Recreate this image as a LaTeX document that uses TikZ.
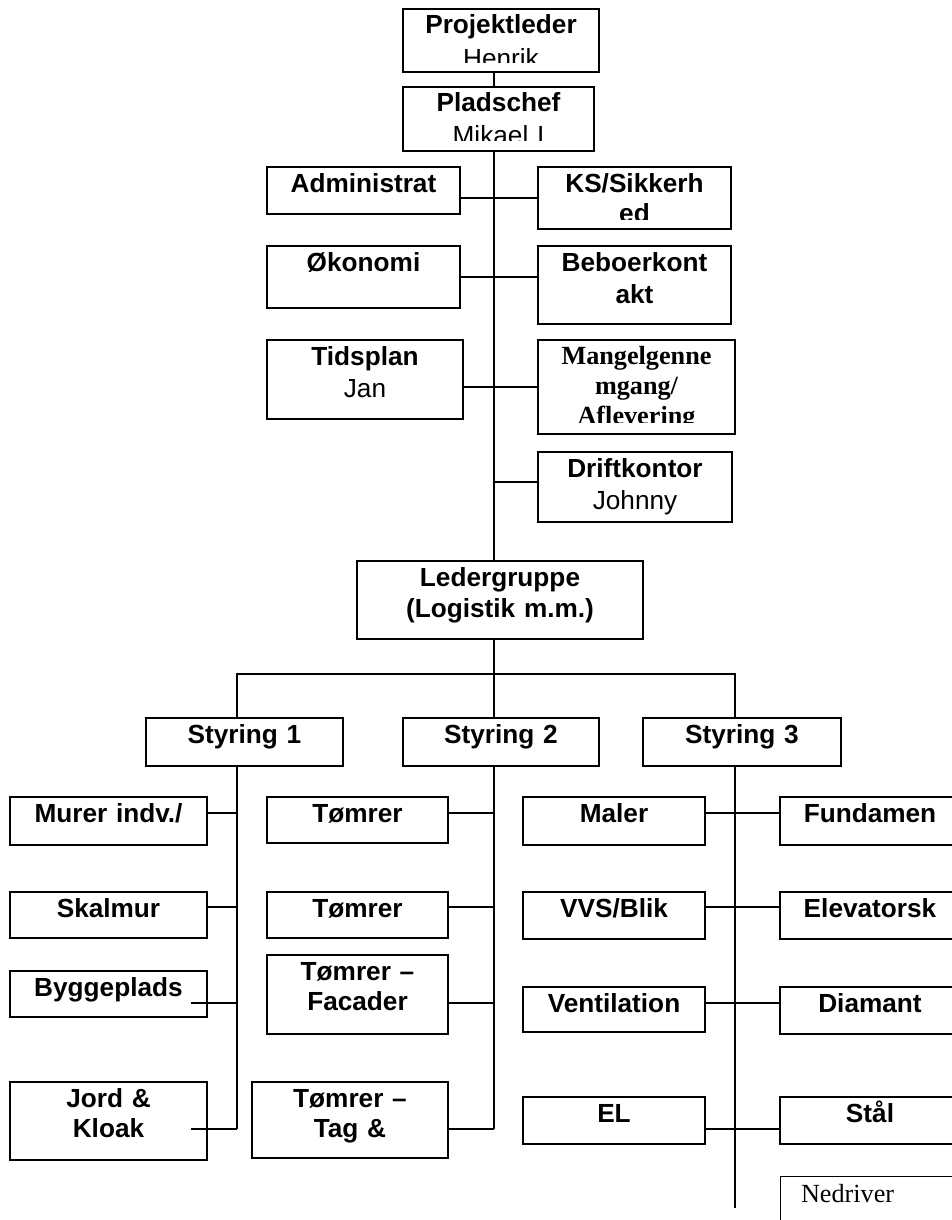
\documentclass[tikz,border=0pt]{standalone}
\usepackage{fontspec}
\setmainfont{Liberation Sans}
\newfontfamily\timesfont{Liberation Serif}
\usetikzlibrary{calc}

\begin{document}
\begin{tikzpicture}[
  x=0.5pt, y=-0.5pt,
  font=\fontsize{13.1pt}{15pt}\selectfont\bfseries,
  box/.style 2 args={draw, line width=1pt, inner sep=0pt, outer sep=0pt,
    anchor=north, align=center, text height=12.5pt, text width=#1, text depth=#2},
  wide/.style={font=\fontsize{13.1pt}{#1}\selectfont\bfseries},
  serifbox/.style={font=\timesfont\fontsize{13.1pt}{15pt}\selectfont},
  link/.style={line width=1pt}]
  \useasboundingbox (0,0) rectangle (952,1220);
  % spines and rows
  \coordinate (spine) at (494,0);
  \coordinate (s1) at (237,0);
  \coordinate (s3) at (735,0);
  \coordinate (r1) at (0,813);
  \coordinate (r2) at (0,907);
  \coordinate (r3) at (0,1003);
  \coordinate (r4) at (0,1129);
  % Ledelse
  \node[box={98pt}{19pt}] (pl) at (501,9) {};
  \node[box={95.5pt}{19.5pt}] (ps) at (498.5,87) {};
  \begin{scope}
    \clip (pl.north west) rectangle ([yshift=4.5pt]pl.south east);
    \node[box={98pt}{19pt}, draw=none, wide=17pt] (pl-t) at (pl.north) {Projektleder\\\textmd{Henrik}};
  \end{scope}
  \begin{scope}
    \clip (ps.north west) rectangle ([yshift=5.5pt]ps.south east);
    \node[box={95.5pt}{19.5pt}, draw=none, wide=16.5pt] (ps-t) at (ps.north) {Pladschef\\\textmd{Mikael I}};
  \end{scope}
  % Stab
  \node[box={96.5pt}{11pt}] (adm) at (363.5,167) {Administrat};
  \node[box={96.5pt}{18.5pt}] (ks) at (634.5,167) {};
  \begin{scope}
    \clip (ks.north west) rectangle ([yshift=5pt]ks.south east);
    \node[box={96.5pt}{18.5pt}, draw=none] (ks-t) at (ks.north) {KS/Sikkerh\\ed};
  \end{scope}
  \node[box={96.5pt}{18.5pt}] (oek) at (363.5,246) {Økonomi};
  \node[box={96.5pt}{26.5pt}, wide=16pt] (beb) at (634.5,246) {Beboerkont\\akt};
  \node[box={98pt}{27pt}, wide=16pt] (tid) at (365,340) {Tidsplan\\\textmd{Jan}};
  \node[box={98.5pt}{34.5pt}] (man) at (636.5,340) {};
  \begin{scope}
    \clip (man.north west) rectangle ([yshift=6pt]man.south east);
    \node[box={98.5pt}{34.5pt}, draw=none, serifbox, text height=12pt] (man-t) at (man.north)
      {\bfseries Mangelgenne\\mgang/\\Aflevering};
  \end{scope}
  \node[box={97pt}{22.5pt}, wide=16pt] (dri) at (635,452) {Driftkontor\\\textmd{Johnny}};
  \node[box={143pt}{26.5pt}, wide=15.5pt] (lg) at (500,561) {Ledergruppe\\(Logistik m.m.)};
  % Styring
  \node[box={98.5pt}{11.5pt}] (st1) at (244.5,718) {Styring 1};
  \node[box={98pt}{11.5pt}] (st2) at (501,718) {Styring 2};
  \node[box={99pt}{11.5pt}] (st3) at (742,718) {Styring 3};
  % Styring 1
  \node[box={98.5pt}{11.5pt}] (mur) at (108.5,797) {Murer indv./};
  \node[box={98.5pt}{10.5pt}] (ska) at (108.5,892) {Skalmur};
  \node[box={98.5pt}{10.5pt}] (byg) at (108.5,971) {Byggeplads};
  \node[box={98.5pt}{26.5pt}] (jor) at (108.5,1082) {Jord \&\\Kloak};
  % Styring 2
  \node[box={90.5pt}{10.5pt}] (tm1) at (357.5,797) {Tømrer};
  \node[box={90.5pt}{10.5pt}] (tm2) at (357.5,892) {Tømrer};
  \node[box={90.5pt}{27pt}] (tmf) at (357.5,955) {Tømrer –\\Facader};
  \node[box={98pt}{25.5pt}] (tmt) at (350,1082) {Tømrer –\\Tag \&};
  % Styring 3
  \node[box={91pt}{11.5pt}] (mal) at (614,797) {Maler};
  \node[box={91pt}{11pt}] (vvs) at (614,892) {VVS/Blik};
  \node[box={91pt}{10pt}] (ven) at (614,987) {Ventilation};
  \node[box={91pt}{11pt}] (el) at (614,1097) {EL};
  \node[box={90pt}{11.5pt}] (fun) at (870,797) {Fundamen};
  \node[box={90pt}{11pt}] (ele) at (870,892) {Elevatorsk};
  \node[box={90pt}{11pt}] (dia) at (870,987) {Diamant};
  \node[box={90pt}{11pt}] (sta) at (870,1097) {Stål};
  \node[box={69pt}{19pt}, serifbox, line width=0.5pt, align=left, inner xsep=10.5pt,
    text height=13pt] (ned) at (870,1176) {Nedriver};
  % Linier
  \draw[link] (pl.south -| spine) -- (ps.north -| spine);
  \draw[link] (ps.south -| spine) -- (lg.north -| spine);
  \coordinate (j1) at (494,198);
  \coordinate (j2) at (494,277);
  \coordinate (j3) at (494,387);
  \coordinate (j4) at (494,482);
  \draw[link] (adm.east |- j1) -- (ks.west |- j1);
  \draw[link] (oek.east |- j2) -- (beb.west |- j2);
  \draw[link] (tid.east |- j3) -- (man.west |- j3);
  \draw[link] (j4) -- (dri.west |- j4);
  \coordinate (bar) at (494,674);
  \draw[link] (lg.south -| spine) -- (bar);
  \draw[link] (s1 |- st1.north) |- (bar) -| (s3 |- st3.north);
  \draw[link] (bar) -- (spine |- st2.north);
  % Styring 1
  \draw[link] (s1 |- st1.south) -- (s1 |- r4);
  \draw[link] (mur.east |- r1) -- (s1 |- r1);
  \draw[link] (ska.east |- r2) -- (s1 |- r2);
  \draw[link] ($(byg.east |- r3)+(-16,0)$) -- (s1 |- r3);
  \draw[link] ($(jor.east |- r4)+(-16,0)$) -- (s1 |- r4);
  % Styring 2
  \draw[link] (spine |- st2.south) -- (spine |- r4);
  \draw[link] (tm1.east |- r1) -- (spine |- r1);
  \draw[link] (tm2.east |- r2) -- (spine |- r2);
  \draw[link] (tmf.east |- r3) -- (spine |- r3);
  \draw[link] (tmt.east |- r4) -- (spine |- r4);
  % Styring 3
  \coordinate (e3) at (735,1208);
  \draw[link] (s3 |- st3.south) -- (e3);
  \draw[link] (mal.east |- r1) -- (fun.west |- r1);
  \draw[link] (vvs.east |- r2) -- (ele.west |- r2);
  \draw[link] (ven.east |- r3) -- (dia.west |- r3);
  \draw[link] (el.east |- r4) -- (sta.west |- r4);
\end{tikzpicture}
\end{document}
